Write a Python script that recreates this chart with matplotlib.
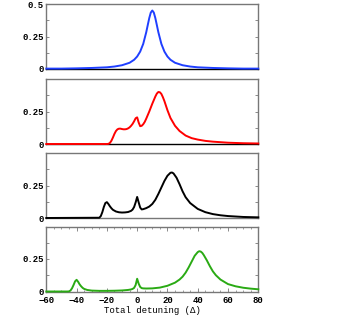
import matplotlib
matplotlib.use('Agg')
import matplotlib.pyplot as plt
from matplotlib.ticker import MultipleLocator, FixedLocator

# panel 1 (blue): single peak near +10
x_blue = [-60, -50, -40, -30, -20, -15, -10, -5, -2, 0, 2, 4, 6, 7, 8, 9, 10, 11, 12, 13, 14,
          16, 18, 20, 22, 25, 30, 35, 40, 50, 60, 70, 80]
y_blue = [.003, .003, .005, .008, .013, .019, .029, .048, .071, .096, .134, .193, .283, .338, .392,
          .434, .45, .434, .392, .338, .283, .193, .134, .096, .071, .048, .029, .019, .013, .008,
          .005, .003, .003]

# panel 2 (red): shoulder near -10, small peak at 0, main peak near +14
x_red = [-60, -30, -20, -19, -18, -17, -16, -15, -14, -13, -12, -11, -10, -9, -8, -7, -6, -5, -4,
         -3, -2, -1, 0, 1, 2, 3, 4, 5, 6, 8, 10, 12, 13, 14, 15, 16, 17, 18, 20, 22, 25, 28, 32,
         36, 40, 45, 50, 60, 70, 80]
y_red = [0, 0, 0, 0.001, 0.008, 0.025, 0.05, 0.078, 0.100, 0.113, 0.118, 0.118, 0.115, 0.113,
         0.113, 0.115, 0.12, 0.128, 0.14, 0.155, 0.175, 0.198, 0.205, 0.165, 0.137, 0.14, 0.152,
         0.17, 0.195, 0.25, 0.31, 0.365, 0.388, 0.40, 0.398, 0.385, 0.36, 0.33, 0.26, 0.20, 0.14,
         0.10, 0.065, 0.045, 0.034, 0.024, 0.018, 0.01, 0.006, 0.004]

# panel 3 (black): peaks at -20, 0 and near +22
x_black = [-60, -25, -24, -23, -22, -21, -20, -19, -18, -17, -16, -14, -12, -10, -8, -6, -4, -3,
           -2, -1, 0, 1, 2, 3, 4, 6, 8, 10, 12, 14, 16, 18, 20, 22, 23, 24, 26, 28, 30, 32, 35,
           40, 45, 50, 55, 60, 70, 80]
y_black = [0, 0.002, 0.015, 0.045, 0.085, 0.115, 0.122, 0.108, 0.09, 0.075, 0.063, 0.05, 0.044,
           0.042, 0.043, 0.046, 0.055, 0.065, 0.085, 0.12, 0.162, 0.12, 0.08, 0.066, 0.068, 0.076,
           0.088, 0.108, 0.14, 0.185, 0.235, 0.285, 0.325, 0.348, 0.35, 0.343, 0.31, 0.26, 0.205,
           0.16, 0.115, 0.07, 0.045, 0.03, 0.021, 0.015, 0.008, 0.005]

# panel 4 (green): peaks at -40, 0 and near +41
x_green = [-60, -46, -45, -44, -43, -42, -41, -40, -39, -38, -37, -36, -35, -33, -30, -25, -20,
           -15, -10, -6, -4, -3, -2, -1, 0, 1, 2, 3, 4, 6, 10, 15, 20, 25, 28, 30, 32, 34, 36, 38,
           40, 41, 42, 43, 44, 46, 48, 50, 52, 55, 60, 65, 70, 75, 80]
y_green = [0, 0, 0.001, 0.008, 0.025, 0.05, 0.078, 0.09, 0.075, 0.055, 0.04, 0.028, 0.02, 0.012,
           0.007, 0.005, 0.005, 0.006, 0.008, 0.012, 0.016, 0.02, 0.028, 0.05, 0.098, 0.06, 0.035,
           0.026, 0.024, 0.023, 0.024, 0.03, 0.044, 0.068, 0.092, 0.114, 0.145, 0.185, 0.23,
           0.275, 0.303, 0.31, 0.307, 0.297, 0.28, 0.24, 0.195, 0.155, 0.125, 0.092, 0.057,
           0.04, 0.029, 0.022, 0.017]

xticks = [-60, -40, -20, 0, 20, 40, 60, 80]

plt.rcParams['font.family'] = ['Liberation Mono', 'DejaVu Sans Mono']
plt.rcParams['font.size'] = 6.5
plt.rcParams['font.weight'] = 'bold'

W, H = 354, 327
fig = plt.figure(figsize=(W / 100, H / 100), dpi=100)

panels = [
    (x_blue, y_blue, '#1f3fff', 69),
    (x_red, y_red, '#ff0000', 144),
    (x_black, y_black, '#000000', 218),
    (x_green, y_green, '#2aaa14', 291.5),
]
left, right = 46.3, 258.3

for i, (xs, ys, col, bot) in enumerate(panels):
    ax = fig.add_axes([left / W, 1 - bot / H, (right - left) / W, 65 / H])
    ax.plot(xs, ys, color=col, lw=1.4, clip_on=False, zorder=3)
    ax.set_xlim(-60, 80)
    ax.set_ylim(0, 0.5)
    for s in ax.spines.values():
        s.set_color('#777777')
        s.set_linewidth(1.0)
    if i < 2:
        ax.spines['bottom'].set_color('black')
    if i == 0:
        ax.set_yticks([0, 0.25, 0.5])
        ax.set_yticklabels(['0', '0.25', '0.5'])
    else:
        ax.set_yticks([0, 0.25])
        ax.set_yticklabels(['0', '0.25'])
    ax.yaxis.set_minor_locator(FixedLocator([0.125, 0.375]))
    ax.tick_params(axis='y', which='both', direction='in', left=True, right=True,
                   length=2.5, width=0.6, color='#777777', pad=2)
    if i == 3:
        ax.set_xticks(xticks)
        ax.xaxis.set_minor_locator(MultipleLocator(5))
        ax.tick_params(axis='x', which='major', direction='in', top=True, bottom=True,
                       length=3, width=0.6, color='#777777', pad=3)
        ax.tick_params(axis='x', which='minor', direction='in', top=True, bottom=True,
                       length=1.5, width=0.5, color='#777777')
        ax.set_xlabel('Total detuning (\u0394)', labelpad=1)
    else:
        ax.set_xticks([])

fig.savefig('out.png', dpi=100)
